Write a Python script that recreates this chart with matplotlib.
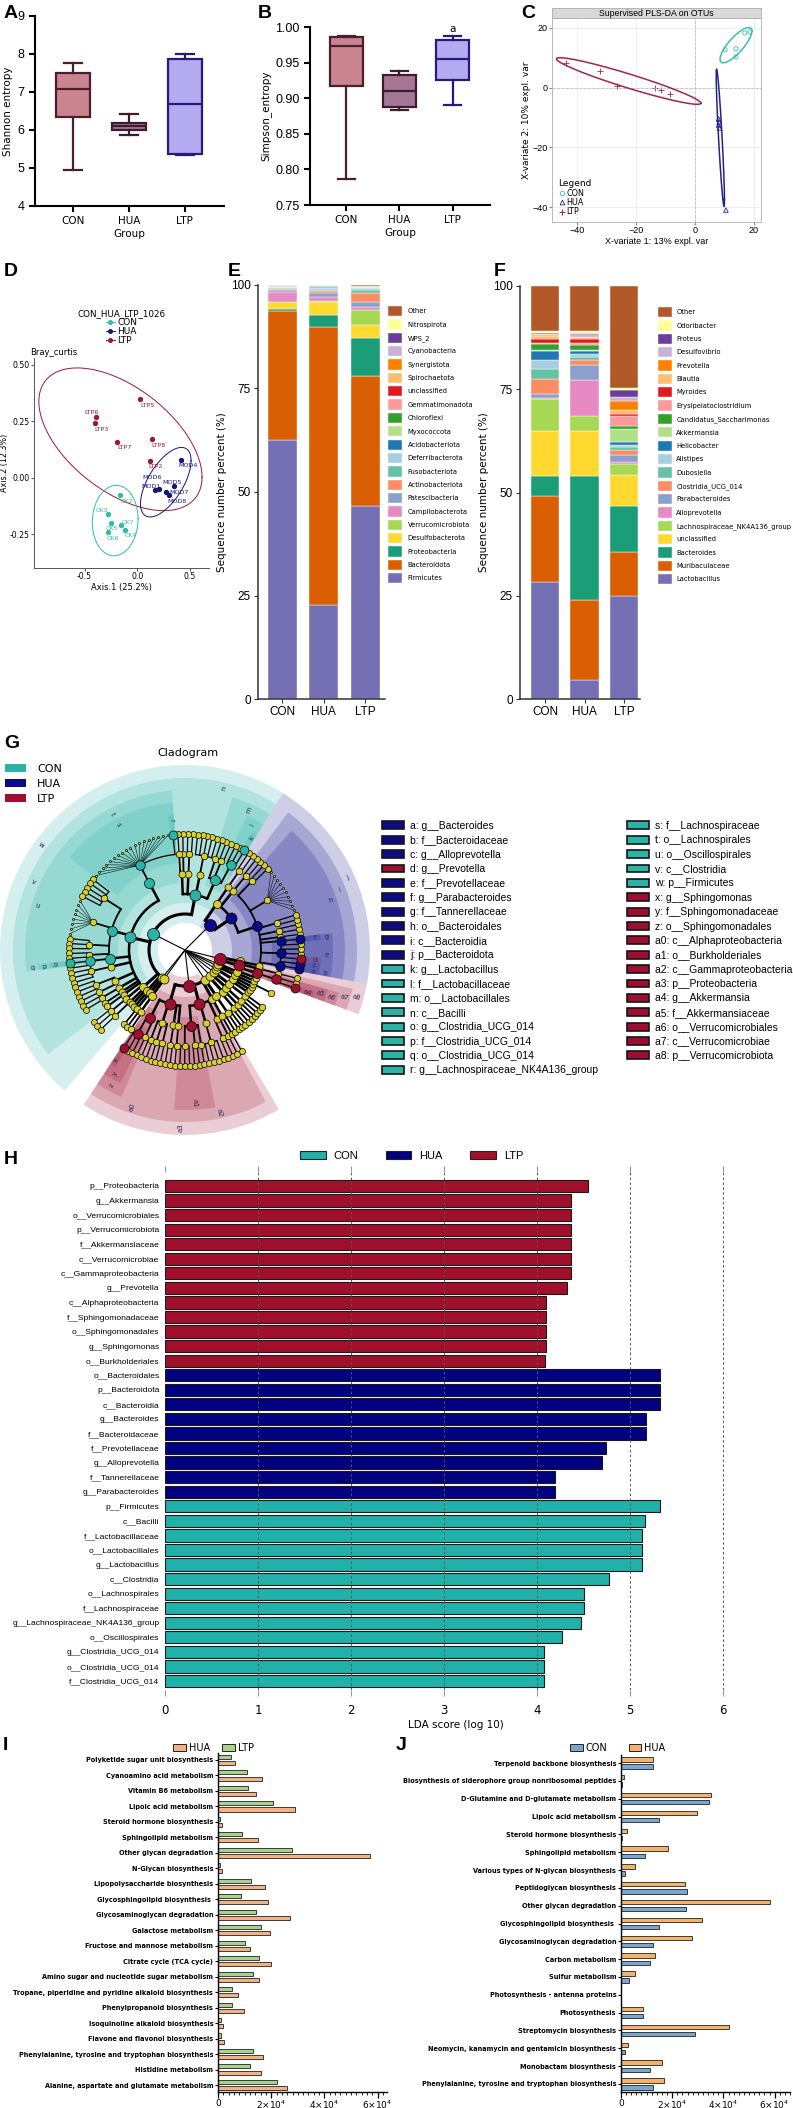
import numpy as np
import matplotlib
matplotlib.use("Agg")
import matplotlib.pyplot as plt
from matplotlib.patches import Patch, Wedge
from matplotlib.lines import Line2D
from matplotlib.ticker import MultipleLocator, FuncFormatter, FormatStrFormatter

plt.rcParams['font.family'] = ['DejaVu Sans']
NARROW = ['Liberation Sans Narrow', 'Liberation Sans', 'DejaVu Sans']
ARIAL = ['Liberation Sans', 'DejaVu Sans']

W, H = 793, 2108

# ---------------- data ----------------
groups = ['CON', 'HUA', 'LTP']

# A / B box statistics per group: whisker low, q1, median, q3, whisker high
shannon_box = [[4.95, 6.33, 7.07, 7.50, 7.75],
               [5.88, 6.00, 6.10, 6.18, 6.43],
               [5.33, 5.37, 6.68, 7.87, 8.00]]
simpson_box = [[0.786, 0.917, 0.973, 0.986, 0.988],
               [0.884, 0.887, 0.910, 0.933, 0.938],
               [0.890, 0.926, 0.955, 0.982, 0.987]]

# C: PLS-DA sample scores
plsda_con_x = [10.2, 13.9, 16.9, 18.6, 13.9]
plsda_con_y = [12.7, 13.0, 18.3, 18.7, 10.3]
plsda_hua_x = [8.0, 8.2, 8.0, 8.3, 10.5]
plsda_hua_y = [-10.5, -11.5, -12.5, -13.5, -41.0]
plsda_ltp_x = [-43.7, -32.2, -26.4, -13.6, -11.5, -8.5]
plsda_ltp_y = [8.3, 5.7, 0.7, 0.0, -0.7, -2.3]
# confidence ellipses: centre x, centre y, sd x, sd y, correlation
plsda_ell_con = [13.9, 14.2, 5.4, 5.9, 0.8]
plsda_ell_hua = [8.6, -16.8, 1.4, 23.0, -0.9]
plsda_ell_ltp = [-22.5, 2.2, 24.5, 7.8, -0.95]

# D: PCoA (Bray-Curtis)
pcoa_con_x = [-0.16, -0.28, -0.15, -0.25, -0.12, -0.28]
pcoa_con_y = [-0.075, -0.16, -0.21, -0.20, -0.23, -0.24]
pcoa_con_lab = ['CK2', 'CK3', 'CK7', 'CK5', 'CK4', 'CK6']
pcoa_hua_x = [0.41, 0.35, 0.21, 0.17, 0.27, 0.30]
pcoa_hua_y = [0.08, -0.035, -0.05, -0.055, -0.065, -0.075]
pcoa_hua_lab = ['MOD4', 'MOD5', 'MOD6', 'MOD1', 'MOD7', 'MOD8']
pcoa_ltp_x = [0.03, -0.39, -0.40, -0.19, 0.14, 0.12]
pcoa_ltp_y = [0.35, 0.27, 0.24, 0.16, 0.17, 0.075]
pcoa_ltp_lab = ['LTP5', 'LTP6', 'LTP3', 'LTP7', 'LTP8', 'LTP2']
pcoa_ell_con = [-0.21, -0.19, 0.217, 0.156, 0.05]
pcoa_ell_hua = [0.27, -0.02, 0.24, 0.154, 0.62]
pcoa_ell_ltp = [-0.16, 0.17, 0.774, 0.316, -0.53]

# E: phylum composition (%), stacked from bottom
phylum_names = ['Firmicutes', 'Bacteroidota', 'Proteobacteria', 'Desulfobacterota', 'Verrucomicrobiota',
                'Campilobacterota', 'Patescibacteria', 'Actinobacteriota', 'Fusobacteriota',
                'Deferribacterota', 'Acidobacteriota', 'Myxococcota', 'Chloroflexi', 'Gemmatimonadota',
                'unclassified', 'Spirochaetota', 'Synergistota', 'Cyanobacteria', 'WPS_2', 'Nitrospirota',
                'Other']
phylum_con = [62.6, 31.2, 0.4, 1.6, 0.2, 2.2, 0.6, 0.3, 0.1, 0.3, 0.05, 0.05, 0.05, 0.05, 0.05, 0.05,
              0.02, 0.1, 0.02, 0.01, 0.05]
phylum_hua = [22.7, 67.2, 2.8, 3.1, 0.3, 1.1, 0.8, 0.6, 0.3, 0.4, 0.2, 0.1, 0.1, 0.1, 0.05, 0.05,
              0.02, 0.03, 0.02, 0.01, 0.2]
phylum_ltp = [46.6, 31.4, 9.2, 3.1, 3.7, 0.8, 1.0, 2.3, 0.8, 0.3, 0.15, 0.1, 0.1, 0.05, 0.05, 0.05,
              0.02, 0.05, 0.02, 0.01, 0.2]

# F: genus composition (%), stacked from bottom
genus_names = ['Lactobacillus', 'Muribaculaceae', 'Bacteroides', 'unclassified',
               'Lachnospiraceae_NK4A136_group', 'Alloprevotella', 'Parabacteroides', 'Clostridia_UCG_014',
               'Dubosiella', 'Alistipes', 'Helicobacter', 'Akkermansia', 'Candidatus_Saccharimonas',
               'Erysipelatoclostridium', 'Myroides', 'Blautia', 'Prevotella', 'Desulfovibrio', 'Proteus',
               'Odoribacter', 'Other']
genus_con = [28.3, 20.9, 4.8, 10.9, 7.7, 0.3, 1.0, 3.6, 2.4, 2.2, 2.1, 0.2, 1.5, 0.4, 0.8, 0.9, 0.2,
             0.2, 0.1, 0.5, 11.0]
genus_hua = [4.6, 19.4, 30.0, 10.9, 3.6, 8.7, 3.7, 1.2, 0.6, 0.8, 0.8, 0.2, 1.1, 0.6, 1.0, 0.4, 0.1,
             0.8, 0.1, 0.6, 10.8]
genus_ltp = [24.9, 10.7, 11.1, 7.5, 2.7, 0.5, 1.7, 1.2, 0.7, 0.5, 0.7, 3.2, 0.7, 2.4, 0.5, 1.0, 2.2,
             0.9, 1.7, 0.4, 24.8]
stack_colors = ['#7570b3', '#d95f02', '#1b9e77', '#ffd92f', '#a6d854', '#e78ac3', '#8da0cb', '#fc8d62',
                '#66c2a5', '#a6cee3', '#1f78b4', '#b2df8a', '#33a02c', '#fb9a99', '#e31a1c', '#fdbf6f',
                '#ff7f00', '#cab2d6', '#6a3d9a', '#ffff99', '#b15928']

# G: cladogram. tuple = (letter, group, children) for a discriminant clade,
# list = plain clade with its children, int n = n plain terminal children
clado_tree = [
    ('a3', 'LTP', [
        ('a0', 'LTP', [
            ('z', 'LTP', [('y', 'LTP', [('x', 'LTP', []), 2]), [1]]),
            [[2], [1], [2]],
            [[2]],
            [[1]],
        ]),
        ('a2', 'LTP', [
            ('a1', 'LTP', [[3], [2], [1]]),
            [[4]],
            [[2], [1]],
        ]),
        [[[1]]],
    ]),
    [[[3]]],
    [[[2], [1]], [[2]]],
    [[[2]]],
    [[3]],
    [[[1]]],
    [[2]],
    ('a8', 'LTP', [('a7', 'LTP', [('a6', 'LTP', [('a5', 'LTP', [('a4', 'LTP', []), 1])]), [[1]]]), [1]]),
    ('j', 'HUA', [
        ('i', 'HUA', [
            ('h', 'HUA', [
                ('b', 'HUA', [('a', 'HUA', [])]),
                ('e', 'HUA', [('c', 'HUA', []), ('d', 'LTP', []), 3]),
                ('g', 'HUA', [('f', 'HUA', [])]),
                [1], [2], [2], [10], [2],
            ]),
            [[2]],
        ]),
        [[[2]]],
    ]),
    ('w', 'CON', [
        ('n', 'CON', [
            ('m', 'CON', [('l', 'CON', [('k', 'CON', []), 2]), [2], [1]]),
            [[5]], [[2]], [[1], [1]],
        ]),
        ('v', 'CON', [
            ('t', 'CON', [('s', 'CON', [('r', 'CON', []), 18])]),
            ('u', 'CON', [[5], [8], [3], [2]]),
            ('q', 'CON', [('p', 'CON', [('o', 'CON', [])])]),
            [[4]], [[3], [1]], [[2]], [1], [1],
        ]),
        [[[2]], [[1]]],
        [2],
    ]),
    [[[1]]],
    [[[2]]],
]
clado_legend_left = ['a: g__Bacteroides', 'b: f__Bacteroidaceae', 'c: g__Alloprevotella', 'd: g__Prevotella',
                     'e: f__Prevotellaceae', 'f: g__Parabacteroides', 'g: f__Tannerellaceae',
                     'h: o__Bacteroidales', 'i: c__Bacteroidia', 'j: p__Bacteroidota', 'k: g__Lactobacillus',
                     'l: f__Lactobacillaceae', 'm: o__Lactobacillales', 'n: c__Bacilli',
                     'o: g__Clostridia_UCG_014', 'p: f__Clostridia_UCG_014', 'q: o__Clostridia_UCG_014',
                     'r: g__Lachnospiraceae_NK4A136_group']
clado_groups_left = ['HUA', 'HUA', 'HUA', 'LTP', 'HUA', 'HUA', 'HUA', 'HUA', 'HUA', 'HUA',
                     'CON', 'CON', 'CON', 'CON', 'CON', 'CON', 'CON', 'CON']
clado_legend_right = ['s: f__Lachnospiraceae', 't: o__Lachnospirales', 'u: o__Oscillospirales',
                      'v: c__Clostridia', 'w: p__Firmicutes', 'x: g__Sphingomonas', 'y: f__Sphingomonadaceae',
                      'z: o__Sphingomonadales', 'a0: c__Alphaproteobacteria', 'a1: o__Burkholderiales',
                      'a2: c__Gammaproteobacteria', 'a3: p__Proteobacteria', 'a4: g__Akkermansia',
                      'a5: f__Akkermansiaceae', 'a6: o__Verrucomicrobiales', 'a7: c__Verrucomicrobiae',
                      'a8: p__Verrucomicrobiota']
clado_groups_right = ['CON'] * 5 + ['LTP'] * 12

# H: LDA scores
lda_names = ['p__Proteobacteria', 'g__Akkermansia', 'o__Verrucomicrobiales', 'p__Verrucomicrobiota',
             'f__Akkermansiaceae', 'c__Verrucomicrobiae', 'c__Gammaproteobacteria', 'g__Prevotella',
             'c__Alphaproteobacteria', 'f__Sphingomonadaceae', 'o__Sphingomonadales', 'g__Sphingomonas',
             'o__Burkholderiales',
             'o__Bacteroidales', 'p__Bacteroidota', 'c__Bacteroidia', 'g__Bacteroides', 'f__Bacteroidaceae',
             'f__Prevotellaceae', 'g__Alloprevotella', 'f__Tannerellaceae', 'g__Parabacteroides',
             'p__Firmicutes', 'c__Bacilli', 'f__Lactobacillaceae', 'o__Lactobacillales', 'g__Lactobacillus',
             'c__Clostridia', 'o__Lachnospirales', 'f__Lachnospiraceae', 'g__Lachnospiraceae_NK4A136_group',
             'o__Oscillospirales', 'g__Clostridia_UCG_014', 'o__Clostridia_UCG_014', 'f__Clostridia_UCG_014']
lda_scores = [4.55, 4.37, 4.37, 4.37, 4.37, 4.37, 4.37, 4.32, 4.10, 4.10, 4.10, 4.10, 4.09,
              5.33, 5.33, 5.33, 5.17, 5.17, 4.74, 4.70, 4.20, 4.20,
              5.32, 5.16, 5.13, 5.13, 5.13, 4.78, 4.51, 4.51, 4.47, 4.27, 4.08, 4.08, 4.08]
lda_groups = ['LTP'] * 13 + ['HUA'] * 9 + ['CON'] * 13

# I: KEGG pathways HUA vs LTP
kegg_i_names = ['Polyketide sugar unit biosynthesis', 'Cyanoamino acid metabolism', 'Vitamin B6 metabolism',
                'Lipoic acid metabolism', 'Steroid hormone biosynthesis', 'Sphingolipid metabolism',
                'Other glycan degradation', 'N-Glycan biosynthesis', 'Lipopolysaccharide biosynthesis',
                'Glycosphingolipid biosynthesis ', 'Glycosaminoglycan degradation', 'Galactose metabolism',
                'Fructose and mannose metabolism', 'Citrate cycle (TCA cycle)',
                'Amino sugar and nucleotide sugar metabolism',
                'Tropane, piperidine and pyridine alkaloid biosynthesis', 'Phenylpropanoid biosynthesis',
                'Isoquinoline alkaloid biosynthesis', 'Flavone and flavonol biosynthesis',
                'Phenylalanine, tyrosine and tryptophan biosynthesis', 'Histidine metabolism',
                'Alanine, aspartate and glutamate metabolism']
kegg_i_hua = [6450, 16510, 14320, 28900, 1550, 14960, 57020, 1680, 17800, 18960, 26960, 19480, 12000,
              19740, 15220, 7480, 9930, 1810, 2190, 16770, 16130, 26060]
kegg_i_ltp = [4900, 10970, 11090, 20770, 650, 9030, 27990, 770, 12260, 8640, 14450, 16000, 10060,
              15480, 13160, 5160, 5160, 1290, 1160, 13030, 12000, 22190]

# J: KEGG pathways CON vs HUA
kegg_j_names = ['Terpenoid backbone biosynthesis', 'Biosynthesis of siderophore group nonribosomal peptides',
                'D-Glutamine and D-glutamate metabolism', 'Lipoic acid metabolism',
                'Steroid hormone biosynthesis', 'Sphingolipid metabolism',
                'Various types of N-glycan biosynthesis', 'Peptidoglycan biosynthesis',
                'Other glycan degradation', 'Glycosphingolipid biosynthesis ', 'Glycosaminoglycan degradation',
                'Carbon metabolism', 'Sulfur metabolism', 'Photosynthesis - antenna proteins',
                'Photosynthesis', 'Streptomycin biosynthesis',
                'Neomycin, kanamycin and gentamicin biosynthesis', 'Monobactam biosynthesis',
                'Phenylalanine, tyrosine and tryptophan biosynthesis']
kegg_j_hua = [12540, 1320, 35240, 29700, 2240, 18220, 5410, 25070, 58040, 31790, 27830, 13190, 5280, 0,
              8440, 42200, 2770, 15830, 16880]
kegg_j_con = [12670, 400, 34190, 14910, 530, 9500, 1720, 25860, 25460, 14910, 12670, 11480, 3170, 0,
              8570, 29020, 1720, 11480, 12670]

# ---------------- helpers ----------------
fig = plt.figure(figsize=(W / 100, H / 100), dpi=100)


def px_axes(l, t, r, b):
    return fig.add_axes([l / W, 1 - b / H, (r - l) / W, (b - t) / H])


def px_text(x, y, s, **kw):
    fig.text(x / W, 1 - y / H, s, **kw)


def fig_pt(x, y):
    return (x / W, 1 - y / H)


def panel_letter(x, y, s):
    px_text(x, y, s, fontsize=14, fontweight='bold', family=NARROW, va='center', ha='left')


def ellipse_xy(p, n=240):
    cx, cy, sx, sy, rho = p
    t = np.linspace(0, 2 * np.pi, n)
    return cx + sx * np.cos(t), cy + sy * (rho * np.cos(t) + np.sqrt(1 - rho ** 2) * np.sin(t))


# ---------------- A and B: box plots ----------------
box_fill = ['#c8848f', '#a57794', '#b3aaf0']
box_edge = ['#4a1e2e', '#3d1b30', '#241b7a']


def draw_box(ax, stats_in, ylim, yticks, ylabel, fmt):
    stats = [dict(whislo=b[0], q1=b[1], med=b[2], q3=b[3], whishi=b[4], label=g)
             for b, g in zip(stats_in, groups)]
    art = ax.bxp(stats, positions=range(3), widths=0.62, capwidths=0.32, showfliers=False,
                 patch_artist=True)
    for i in range(3):
        art['boxes'][i].set(facecolor=box_fill[i], edgecolor=box_edge[i], linewidth=1.6)
        art['medians'][i].set(color=box_edge[i], linewidth=1.6)
        for k in (2 * i, 2 * i + 1):
            art['whiskers'][k].set(color=box_edge[i], linewidth=1.6)
            art['caps'][k].set(color=box_edge[i], linewidth=1.6)
    ax.set_xlim(-0.68, 2.7)
    ax.set_ylim(*ylim)
    ax.set_yticks(yticks)
    ax.yaxis.set_major_formatter(FormatStrFormatter(fmt))
    ax.spines[['top', 'right']].set_visible(False)
    for s in ('left', 'bottom'):
        ax.spines[s].set_linewidth(1.5)
    ax.tick_params(width=1.5, length=4)
    for lab in ax.get_yticklabels():
        lab.set_family(NARROW)
        lab.set_fontsize(9)
    ax.set_xticks(range(3))
    ax.set_xticklabels(groups, fontsize=7.5)
    ax.set_xlabel('Group', fontsize=7.5, labelpad=2)
    ax.set_ylabel(ylabel, fontsize=7.5, labelpad=3)


axa = px_axes(35, 16, 224, 206)
draw_box(axa, shannon_box, (4, 9), range(4, 10), 'Shannon entropy', '%d')
axb = px_axes(310, 27, 490, 205)
draw_box(axb, simpson_box, (0.75, 1.0), [0.75, 0.80, 0.85, 0.90, 0.95, 1.00], 'Simpson_entropy', '%.2f')
axb.text(2, 0.997, 'a', ha='center', va='center', fontsize=7.5)

# ---------------- C: PLS-DA ----------------
c_con, c_hua, c_ltp = '#3cbfae', '#24248f', '#a3244a'
axc = px_axes(552, 18, 761, 222)
axc.set_xlim(-48.5, 22.4)
axc.set_ylim(-45, 23.3)
axc.set_xticks([-40, -20, 0, 20])
axc.set_yticks([-40, -20, 0, 20])
axc.grid(color='#ebebeb', lw=0.6)
axc.set_axisbelow(True)
axc.axhline(0, ls='--', color='#c0c0c0', lw=0.6)
axc.axvline(0, ls='--', color='#c0c0c0', lw=0.6)
for s in axc.spines.values():
    s.set_color('#b0b0b0')
    s.set_linewidth(0.6)
axc.tick_params(length=2, color='#888888', labelsize=6.5, pad=1)
for lab in axc.get_xticklabels() + axc.get_yticklabels():
    lab.set_family(NARROW)
for p, col in ((plsda_ell_con, c_con), (plsda_ell_hua, c_hua), (plsda_ell_ltp, c_ltp)):
    ex, ey = ellipse_xy(p)
    axc.plot(ex, ey, color=col, lw=1.1)
axc.scatter(plsda_con_x, plsda_con_y, s=9, facecolors='none', edgecolors=c_con, lw=0.6)
axc.scatter(plsda_hua_x, plsda_hua_y, s=11, marker='^', facecolors='none', edgecolors=c_hua, lw=0.6)
axc.scatter(plsda_ltp_x, plsda_ltp_y, s=14, marker='+', color=c_ltp, lw=0.6)
axc.set_xlabel('X-variate 1: 13% expl. var', fontsize=6.5, family=NARROW, labelpad=1)
axc.set_ylabel('X-variate 2: 10% expl. var', fontsize=6.5, labelpad=1)
c_handles = [Line2D([], [], marker='o', ls='', mfc='none', mec=c_con, ms=3.2, mew=0.6),
             Line2D([], [], marker='^', ls='', mfc='none', mec=c_hua, ms=3.4, mew=0.6),
             Line2D([], [], marker='+', ls='', color=c_ltp, ms=4.5, mew=0.7)]
leg = axc.legend(c_handles, groups, title='Legend', loc='lower left', bbox_to_anchor=(0.0, 0.0),
                 fontsize=5.8, title_fontsize=6.5, frameon=False, handletextpad=0.1, labelspacing=0.05,
                 borderpad=0.2, handlelength=1.0, alignment='left')
strip = px_axes(552, 8, 761, 18)
strip.set_facecolor('#d9d9d9')
strip.set_xticks([])
strip.set_yticks([])
for s in strip.spines.values():
    s.set_color('#b0b0b0')
    s.set_linewidth(0.6)
strip.text(0.5, 0.45, 'Supervised PLS-DA on OTUs', ha='center', va='center', fontsize=6.3,
           family=NARROW, transform=strip.transAxes)

# ---------------- D: PCoA ----------------
d_con, d_hua, d_ltp = '#2fbfa5', '#15157a', '#9a1838'
axd = px_axes(34, 358, 209, 568)
axd.set_xlim(-0.98, 0.68)
axd.set_ylim(-0.40, 0.53)
axd.set_xticks([-0.5, 0.0, 0.5])
axd.set_yticks([-0.25, 0.0, 0.25, 0.50])
axd.yaxis.set_major_formatter(FormatStrFormatter('%.2f'))
axd.xaxis.set_major_formatter(FormatStrFormatter('%.1f'))
axd.spines[['top', 'right']].set_visible(False)
for s in ('left', 'bottom'):
    axd.spines[s].set_color('#555555')
    axd.spines[s].set_linewidth(0.7)
axd.tick_params(length=2, labelsize=5.6, pad=1, color='#555555')
for p, col in ((pcoa_ell_ltp, d_ltp), (pcoa_ell_hua, d_hua), (pcoa_ell_con, d_con)):
    ex, ey = ellipse_xy(p)
    axd.plot(ex, ey, color=col, lw=0.7)
con_off = [(6, -7), (-6, 3), (6, 3), (1, -6), (6, -6), (5, -7)]
hua_off = [(8, -6), (-2, 3), (-7, 11), (-4, 4), (13, 0), (8, -7)]
ltp_off = [(7, -7), (-5, 4), (6, -6), (7, -6), (6, -6), (6, -6)]
for xs, ys, labs, offs, col in ((pcoa_ltp_x, pcoa_ltp_y, pcoa_ltp_lab, ltp_off, d_ltp),
                                (pcoa_hua_x, pcoa_hua_y, pcoa_hua_lab, hua_off, d_hua),
                                (pcoa_con_x, pcoa_con_y, pcoa_con_lab, con_off, d_con)):
    axd.scatter(xs, ys, s=8, color=col, zorder=3)
    for x, y, lab, (dx, dy) in zip(xs, ys, labs, offs):
        axd.annotate(lab, (x, y), xytext=(dx * 0.72, dy * 0.72), textcoords='offset points',
                     ha='center', va='center', fontsize=4.6, color=col)
axd.set_xlabel('Axis.1 (25.2%)', fontsize=6, labelpad=1)
axd.set_ylabel('Axis.2 (12.3%)', fontsize=5.8, labelpad=0.5)
axd.set_title('Bray_curtis', loc='left', fontsize=6, pad=2, x=-0.02)
d_handles = [Line2D([], [], marker='o', color=c, ms=2.6, lw=0.7) for c in (d_con, d_hua, d_ltp)]
axd.legend(d_handles, groups, title='CON_HUA_LTP_1026', loc='lower center', bbox_to_anchor=(0.5, 1.04),
           fontsize=6.5, title_fontsize=6.3, frameon=False, handlelength=1.0, handletextpad=0.3,
           labelspacing=0.0, borderpad=0)


# ---------------- E and F: stacked bars ----------------
def draw_stack(ax, names, series, width, xlim, leg_xy, leg_pad):
    x = np.arange(3)
    bottom = np.zeros(3)
    for name, col, vals in zip(names, stack_colors, zip(*series)):
        vals = np.array(vals)
        ax.bar(x, vals, width=width, bottom=bottom, color=col, edgecolor='white', linewidth=0.3,
               label=name)
        bottom += vals
    ax.set_xlim(*xlim)
    ax.set_ylim(0, 100)
    ax.set_yticks([0, 25, 50, 75, 100])
    ax.set_xticks(x)
    ax.set_xticklabels(groups)
    ax.spines[['top', 'right']].set_visible(False)
    for s in ('left', 'bottom'):
        ax.spines[s].set_color('#333333')
        ax.spines[s].set_linewidth(1.1)
    ax.tick_params(length=3, color='#333333', labelsize=8.5, pad=2)
    for lab in ax.get_xticklabels() + ax.get_yticklabels():
        lab.set_family(NARROW)
    ax.set_ylabel('Sequence number percent (%)', fontsize=7.5, labelpad=3)
    h, lab = ax.get_legend_handles_labels()
    ax.legend(h[::-1], lab[::-1], loc='upper left', bbox_to_anchor=fig_pt(*leg_xy),
              bbox_transform=fig.transFigure, frameon=False, fontsize=4.9, handlelength=2.1,
              handleheight=1.95, labelspacing=0.45, handletextpad=leg_pad, borderpad=0, borderaxespad=0)


axe = px_axes(258, 285, 385, 699)
draw_stack(axe, phylum_names, [phylum_con, phylum_hua, phylum_ltp], 0.7, (-0.58, 2.48), (388, 306), 0.8)
axf = px_axes(520, 286, 640, 699)
draw_stack(axf, genus_names, [genus_con, genus_hua, genus_ltp], 0.71, (-0.63, 2.4), (658, 307), 0.6)

# ---------------- G: cladogram ----------------
group_col = {'CON': '#2ab3a6', 'HUA': '#0b0b8a', 'LTP': '#9e0e2f'}
node_yellow = '#d8d02a'
clado_r = {0: 0, 1: 36, 2: 56, 3: 76, 4: 96, 5: 116}
wedge_out = {1: 185, 2: 172, 3: 160, 4: 148, 5: 136}
label_r = {1: 178, 2: 166, 3: 154, 4: 142, 5: 130}
node_px = {0: 5, 1: 9, 2: 8, 3: 7, 4: 6.5, 5: 6}
edge_lw = {0: 0.8, 1: 2.2, 2: 1.8, 3: 1.3, 4: 0.9}


def count_leaves(node):
    kids = node[2] if isinstance(node, tuple) else node
    if not kids:
        return 1
    return sum(k if isinstance(k, int) else count_leaves(k) for k in kids)


n_leaves = count_leaves(clado_tree)
step = 360.0 / n_leaves
start_angle = -123.2
counter = [0]
nodes, links, arcs, clades = [], [], [], []


def leaf_angle(i):
    return start_angle + (i + 0.5) * step


def place(node, level):
    letter, grp, kids = (node if isinstance(node, tuple) else (None, None, node))
    start = counter[0]
    kid_info = []
    for k in kids:
        if isinstance(k, int):
            for _ in range(k):
                a = leaf_angle(counter[0])
                counter[0] += 1
                nodes.append((level + 1, a, None, k >= 6))
                kid_info.append((a, level + 1, k >= 6))
        else:
            kid_info.append((place(k, level + 1), level + 1, False))
    if kid_info:
        ang = 0.5 * (kid_info[0][0] + kid_info[-1][0])
        if level > 0:
            normal = [a for a, lv, fan in kid_info if not fan] + [ang]
            arcs.append((level, min(normal), max(normal)))
        for a, lv, fan in kid_info:
            links.append((level, ang, lv, a, fan))
    else:
        ang = leaf_angle(counter[0])
        counter[0] += 1
    end = counter[0] - 1
    nodes.append((level, ang, grp, False))
    if letter:
        clades.append((level, letter, grp, leaf_angle(start) - step / 2, leaf_angle(end) + step / 2))
    return ang


place(clado_tree, 0)


def pol(r, a):
    t = np.deg2rad(a)
    return r * np.cos(t), r * np.sin(t)


axg = px_axes(0, 755, 380, 1145)
axg.set_xlim(-185, 195)
axg.set_ylim(-195, 195)
axg.axis('off')
for level, letter, grp, a0, a1 in sorted(clades, key=lambda c: c[0]):
    r_out = wedge_out[level]
    r_in = clado_r[level] - 9
    axg.add_patch(Wedge((0, 0), r_out, a0, a1, width=r_out - r_in, facecolor=group_col[grp],
                        alpha=0.2, lw=0, zorder=0))
for level, letter, grp, a0, a1 in clades:
    mid = 0.5 * (a0 + a1)
    x, y = pol(label_r[level], mid)
    rot = ((mid + 180) % 360) - 180
    if rot > 90 or rot < -90:
        rot -= 180
    axg.text(x, y, letter, ha='center', va='center', fontsize=5, rotation=rot, color='#2a2a55', zorder=4)
for level, a0, a1 in arcs:
    t = np.linspace(a0, a1, max(int(abs(a1 - a0)) * 2, 2))
    x, y = pol(clado_r[level], t)
    axg.plot(x, y, color='black', lw=edge_lw[level], zorder=1, solid_capstyle='round')
for lp, ap, lc, ac, fan in links:
    if fan:
        x0, y0 = pol(clado_r[lp], ap)
        x1, y1 = pol(clado_r[lc], ac)
        axg.plot([x0, x1], [y0, y1], color='black', lw=0.35, zorder=1)
    else:
        x0, y0 = pol(clado_r[lp], ac)
        x1, y1 = pol(clado_r[lc], ac)
        axg.plot([x0, x1], [y0, y1], color='black', lw=edge_lw[lp], zorder=1)
for level, a, grp, fan in nodes:
    if level == 0:
        continue
    x, y = pol(clado_r[level], a)
    d = 2.0 if fan else node_px[level] + (3 if grp else 0)
    fc = group_col[grp] if grp else node_yellow
    axg.scatter([x], [y], s=(d * 0.72) ** 2, facecolor=fc, edgecolor='black', linewidths=0.5,
                zorder=2 + (1 if grp else 0))
px_text(188, 753, 'Cladogram', ha='center', va='center', fontsize=8)
fig.legend([Patch(fc=group_col[g], ec='none') for g in groups], groups, loc='upper left',
           bbox_to_anchor=fig_pt(5, 764), frameon=False, fontsize=8, handlelength=1.9, handleheight=0.7,
           labelspacing=0.45, handletextpad=1.0, borderpad=0, borderaxespad=0)
for labs, grps, xy in ((clado_legend_left, clado_groups_left, (382, 821)),
                       (clado_legend_right, clado_groups_right, (627, 821))):
    fig.legend([Patch(fc=group_col[g], ec='#151515', lw=1.2) for g in grps], labs, loc='upper left',
               bbox_to_anchor=fig_pt(*xy), frameon=False, prop={'family': ARIAL, 'size': 7.5},
               handlelength=2.1, handleheight=0.8, labelspacing=0.42, handletextpad=0.6, borderpad=0,
               borderaxespad=0)

# ---------------- H: LDA bars ----------------
h_col = {'CON': '#20b2aa', 'HUA': '#000080', 'LTP': '#a0102a'}
axh = px_axes(165, 1172, 746, 1690)
yy = np.arange(len(lda_names))
axh.barh(yy, lda_scores, height=0.84, color=[h_col[g] for g in lda_groups], edgecolor='#1a1a1a',
         linewidth=0.8, zorder=2)
axh.set_xlim(0, 6.25)
axh.set_ylim(34.62, -0.96)
axh.set_xticks(range(7))
for v in range(1, 7):
    axh.axvline(v, ls=(0, (2.5, 2.5)), color='#555555', lw=0.7, zorder=3)
axh.set_yticks(yy)
axh.set_yticklabels(lda_names, family=NARROW, fontsize=6.1)
for s in axh.spines.values():
    s.set_visible(False)
axh.tick_params(axis='y', length=0, pad=4)
axh.tick_params(axis='x', top=True, bottom=True, length=4, color='#999999', labelsize=8.5, pad=6)
axh.set_xlabel('LDA score (log 10)', fontsize=7.5, labelpad=2)
fig.legend([Patch(fc=h_col[g], ec='#222222', lw=0.8) for g in groups], groups, ncol=3, loc='center left',
           bbox_to_anchor=fig_pt(300, 1156), frameon=False, prop={'family': NARROW, 'size': 8},
           handlelength=2.3, handleheight=0.8, handletextpad=0.7, columnspacing=2.5, borderpad=0,
           borderaxespad=0)


# ---------------- I and J: KEGG bars ----------------
def sci_fmt(v, pos):
    if v == 0:
        return '0'
    return r'$%d{\times}10^{4}$' % round(v / 1e4)


def draw_kegg(ax, names, top_vals, bot_vals, top_col, bot_col, xlim, off, hgt):
    yv = np.arange(len(names))
    ax.barh(yv - off, top_vals, height=hgt, color=top_col, edgecolor='#222222', linewidth=0.6)
    ax.barh(yv + off, bot_vals, height=hgt, color=bot_col, edgecolor='#222222', linewidth=0.6)
    ax.set_ylim(len(names) - 0.55, -0.45)
    ax.set_xlim(*xlim)
    ax.set_yticks(yv)
    ax.set_yticklabels(names, fontsize=4.7, fontweight='bold')
    ax.xaxis.set_major_locator(MultipleLocator(20000))
    ax.xaxis.set_minor_locator(MultipleLocator(2000))
    ax.xaxis.set_major_formatter(FuncFormatter(sci_fmt))
    ax.spines[['top', 'right']].set_visible(False)
    ax.spines['left'].set_linewidth(1.0)
    ax.spines['bottom'].set_linewidth(1.0)
    ax.tick_params(axis='y', length=2.5, width=0.8, pad=1)
    ax.tick_params(axis='x', which='major', length=4, width=0.9, labelsize=6.5, pad=1)
    ax.tick_params(axis='x', which='minor', length=2, width=0.6)


i_hua_col, i_ltp_col = '#f4b183', '#a9d18e'
axi = px_axes(218, 1753, 387, 2092)
draw_kegg(axi, kegg_i_names, kegg_i_ltp, kegg_i_hua, i_ltp_col, i_hua_col, (0, 63500), 0.2, 0.26)
fig.legend([Patch(fc=i_hua_col, ec='#222222', lw=0.7), Patch(fc=i_ltp_col, ec='#222222', lw=0.7)],
           ['HUA', 'LTP'], ncol=2, loc='center left', bbox_to_anchor=fig_pt(173, 1748), frameon=False,
           fontsize=7, handlelength=1.3, handleheight=0.6, handletextpad=0.3, columnspacing=1.3,
           borderpad=0, borderaxespad=0)

j_con_col, j_hua_col = '#7ba7cc', '#f5b26b'
axj = px_axes(621, 1755, 790, 2092)
draw_kegg(axj, kegg_j_names, kegg_j_hua, kegg_j_con, j_hua_col, j_con_col, (0, 66000), 0.2, 0.24)
fig.legend([Patch(fc=j_con_col, ec='#222222', lw=0.7), Patch(fc=j_hua_col, ec='#222222', lw=0.7)],
           ['CON', 'HUA'], ncol=2, loc='center left', bbox_to_anchor=fig_pt(570, 1748), frameon=False,
           fontsize=7, handlelength=1.3, handleheight=0.6, handletextpad=0.3, columnspacing=2.2,
           borderpad=0, borderaxespad=0)

# ---------------- panel letters ----------------
for x, y, s in ((4, 14, 'A'), (258, 14, 'B'), (521, 14, 'C'), (4, 272, 'D'), (228, 272, 'E'),
                (494, 272, 'F'), (4, 743, 'G'), (4, 1160, 'H'), (3, 1745, 'I'), (396, 1745, 'J')):
    panel_letter(x, y, s)

fig.savefig('out.png', dpi=100)
